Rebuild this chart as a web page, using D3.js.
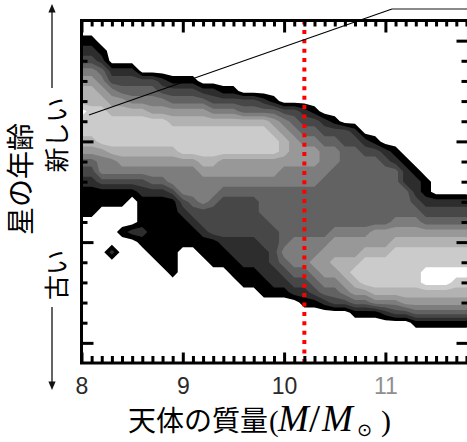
<!DOCTYPE html>
<html>
<head>
<meta charset="utf-8">
<script src="https://cdn.jsdelivr.net/npm/d3@7"></script>
<style>
  html, body { margin: 0; padding: 0; background: #fff; }
  svg { display: block; }
</style>
</head>
<body>
<svg id="chart" width="467" height="442"></svg>
<script>
// ---- data -------------------------------------------------------------
// Galaxy stellar mass, log(M/Msun); bottom/top axes
const massMajorTicks = [8, 9, 10, 11];
const massTickLabels = ["8", "9", "10", "11"];
// Stellar age axis (young at top, old at bottom), arbitrary units, no labels
const ageMajorTicks = [0, 1, 2, 3];

// Density grid: one string per age row (age -0.2 ... 3.2, step 0.1),
// one digit per mass column (mass 8.0 ... 11.8, step 0.1).
// Digit = contour level (0 = empty, 9 = densest).
const gridMass0 = 8.0, gridMassStep = 0.1;
const gridAge0 = -0.2, gridAgeStep = 0.1;
const densityRows = [
  "000000000000000000000000000000000000000",
  "000000000000000000000000000000000000000",
  "110000000000000000000000000000000000000",
  "221000000000000000000000000000000000000",
  "332000000000000000000000000000000000000",
  "554222000000000000000000000000000000000",
  "665333332111000000000000000000000000000",
  "776544443333221100000000000000000000000",
  "777665555444433333210000000000000000000",
  "988777766666655544443321000000000000000",
  "888888888777777777765433210000000000000",
  "888888888888888888876544333200000000000",
  "778888888888888888887655443321000000000",
  "666777777788888888887666554433210000000",
  "445566666666776666666666554444321000000",
  "335555555555666666665555544444442100000",
  "223333344555555555555555444444442210000",
  "111111222355554444444444444444444210000",
  "111110111134543333444444444444444322222",
  "110000111123333333444444444444444433333",
  "000000111112333333344444444444455544444",
  "000012211111233333334444455556666666666",
  "000000111111112222334555566666677777777",
  "000200011100111222235555666677788888888",
  "000000001100011122234556677788888888888",
  "000000000100000111223445667888888899999",
  "000000000000000011122334556788888899988",
  "000000000000000000111223445667777777777",
  "000000000000000000000011233445556666666",
  "000000000000000000000000000111233444444",
  "000000000000000000000000000000000111111",
  "000000000000000000000000000000000000000",
  "000000000000000000000000000000000000000",
  "000000000000000000000000000000000000000",
  "000000000000000000000000000000000000000"
];
const contourThresholds = [0.5, 1.5, 2.5, 3.5, 4.5, 5.5, 6.5, 7.5, 8.5];

// Mass threshold marked by the dotted line
const splitMass = 10.2;

// ---- styles -----------------------------------------------------------
const levelFill = ["#000000", "#2d2d2d", "#474747", "#626262", "#7d7d7d",
                   "#989898", "#b2b2b2", "#cbcbcb", "#ffffff"];

// ---- layout -----------------------------------------------------------
const plot = { left: 81.5, right: 469.5, top: 20.5, bottom: 363 };
const svg = d3.select("#chart");

const x = d3.scaleLinear().domain([8, 8 + (plot.right - plot.left) / 101.3])
  .range([plot.left, plot.right]);
const y = d3.scaleLinear().domain([-0.2, 3.2]).range([plot.top, plot.bottom]);

svg.append("defs").append("clipPath").attr("id", "plotClip")
  .append("rect")
  .attr("x", plot.left).attr("y", plot.top)
  .attr("width", plot.right - plot.left).attr("height", plot.bottom - plot.top);

// ---- filled contours ----------------------------------------------------
const nCols = densityRows[0].length, nRows = densityRows.length;
const values = densityRows.flatMap(row => Array.from(row, Number));
const bands = d3.contours().size([nCols, nRows]).thresholds(contourThresholds)(values);

// grid sample (i, j) sits at contour coordinate (i + 0.5, j + 0.5)
const gridToScreen = d3.geoTransform({
  point(u, v) {
    this.stream.point(
      x(gridMass0 + (u - 0.5) * gridMassStep),
      y(gridAge0 + (v - 0.5) * gridAgeStep));
  }
});
const bandPath = d3.geoPath(gridToScreen);

svg.append("g").attr("clip-path", "url(#plotClip)")
  .selectAll("path").data(bands).join("path")
  .attr("d", bandPath)
  .attr("fill", (d, i) => levelFill[i])
  .attr("stroke", "none");

// ---- dotted mass threshold ---------------------------------------------
svg.append("line")
  .attr("x1", x(splitMass)).attr("x2", x(splitMass))
  .attr("y1", plot.top).attr("y2", plot.bottom)
  .attr("stroke", "#ff0000").attr("stroke-width", 4)
  .attr("stroke-dasharray", "4 5.4");

// ---- axes (ticks pointing inward) --------------------------------------
const massMinor = d3.range(80, 119).map(k => k / 10).filter(v => !Number.isInteger(v));
const ageMinor = d3.range(0, 16).map(k => k / 5).filter(v => !Number.isInteger(v));

function styleTicks(g) {
  g.select(".domain").remove();
  g.selectAll(".tick line").attr("stroke", "#000").attr("stroke-width", 3);
}

// bottom
svg.append("g").attr("transform", `translate(0,${plot.bottom})`)
  .call(d3.axisBottom(x).tickValues(massMinor).tickSize(-7).tickFormat(""))
  .call(styleTicks);
svg.append("g").attr("transform", `translate(0,${plot.bottom})`)
  .call(d3.axisBottom(x).tickValues(massMajorTicks).tickSize(-10.5).tickFormat(""))
  .call(styleTicks);
// top
svg.append("g").attr("transform", `translate(0,${plot.top})`)
  .call(d3.axisTop(x).tickValues(massMinor).tickSize(-6).tickFormat(""))
  .call(styleTicks);
svg.append("g").attr("transform", `translate(0,${plot.top})`)
  .call(d3.axisTop(x).tickValues(massMajorTicks).tickSize(-12).tickFormat(""))
  .call(styleTicks);
// left
svg.append("g").attr("transform", `translate(${plot.left},0)`)
  .call(d3.axisLeft(y).tickValues(ageMinor).tickSize(-6).tickFormat(""))
  .call(styleTicks);
svg.append("g").attr("transform", `translate(${plot.left},0)`)
  .call(d3.axisLeft(y).tickValues(ageMajorTicks).tickSize(-12).tickFormat(""))
  .call(styleTicks);
// right
svg.append("g").attr("transform", `translate(${plot.right},0)`)
  .call(d3.axisRight(y).tickValues(ageMinor).tickSize(-8).tickFormat(""))
  .call(styleTicks);
svg.append("g").attr("transform", `translate(${plot.right},0)`)
  .call(d3.axisRight(y).tickValues(ageMajorTicks).tickSize(-13).tickFormat(""))
  .call(styleTicks);

// frame
svg.append("rect")
  .attr("x", plot.left).attr("y", plot.top)
  .attr("width", plot.right - plot.left).attr("height", plot.bottom - plot.top)
  .attr("fill", "none").attr("stroke", "#000").attr("stroke-width", 3);

// mass tick labels
const labelAxis = svg.append("g").attr("transform", `translate(0,${plot.bottom})`)
  .call(d3.axisBottom(x).tickValues(massMajorTicks).tickSize(0).tickPadding(15)
    .tickFormat((d, i) => massTickLabels[i]));
labelAxis.select(".domain").remove();
labelAxis.selectAll("text")
  .attr("font-family", "'Liberation Sans', Arial, sans-serif")
  .attr("font-size", 23)
  .attr("fill", d => d === 11 ? "#8f8f8f" : "#2a2a2a");

// ---- pointer line to the young population ------------------------------
svg.append("polyline")
  .attr("points", [[8.074, 0.738], [11.065, -0.314]]
    .map(p => [x(p[0]), y(p[1])].join(",")).join(" "))
  .attr("fill", "none").attr("stroke", "#000").attr("stroke-width", 1.1);
svg.append("line")
  .attr("x1", x(11.065)).attr("y1", y(-0.314))
  .attr("x2", x(12)).attr("y2", y(-0.314))
  .attr("stroke", "#8a8a8a").attr("stroke-width", 2);

// ---- axis titles --------------------------------------------------------
const jp = "'Noto Sans CJK JP', 'Noto Sans CJK SC', sans-serif";
const serif = "'Liberation Serif', serif";
const xTitle = svg.append("text").attr("y", 431).attr("fill", "#000");
xTitle.append("tspan").attr("x", 128).attr("font-family", jp).attr("font-size", 28)
  .text("天体の質量");
xTitle.append("tspan").attr("x", 269).attr("font-family", serif)
  .attr("font-size", 29).text("(");
xTitle.append("tspan").attr("x", 278).attr("font-family", serif)
  .attr("font-style", "italic").attr("font-size", 37).text("M");
xTitle.append("tspan").attr("x", 309).attr("font-family", serif)
  .attr("font-size", 40).attr("dy", 1).text("/");
xTitle.append("tspan").attr("x", 322).attr("dy", -1).attr("font-family", serif)
  .attr("font-style", "italic").attr("font-size", 37).text("M");
xTitle.append("tspan").attr("x", 357).attr("dy", 5).attr("font-family", "'DejaVu Sans', sans-serif")
  .attr("font-size", 18).text("⊙");
xTitle.append("tspan").attr("x", 381).attr("dy", -5).attr("font-family", serif)
  .attr("font-size", 30).text(")");

svg.append("text")
  .attr("transform", "translate(31,179) rotate(-90)")
  .attr("text-anchor", "middle").attr("font-family", jp).attr("font-size", 28)
  .attr("fill", "#000").text("星の年齢");
svg.append("text")
  .attr("transform", "translate(66,135) rotate(-90)")
  .attr("text-anchor", "middle").attr("font-family", jp).attr("font-size", 25)
  .attr("fill", "#000").text("新しい");
svg.append("text")
  .attr("transform", "translate(66,275) rotate(-90)")
  .attr("text-anchor", "middle").attr("font-family", jp).attr("font-size", 25)
  .attr("fill", "#000").text("古い");

// direction arrows beside the age labels
const arrowX = 52;
svg.append("line").attr("x1", arrowX).attr("x2", arrowX).attr("y1", 88).attr("y2", 11)
  .attr("stroke", "#111").attr("stroke-width", 1.3);
svg.append("path").attr("d", `M${arrowX},4 L${arrowX - 3.6},12.5 L${arrowX + 3.6},12.5 Z`)
  .attr("fill", "#111");
svg.append("line").attr("x1", arrowX).attr("x2", arrowX).attr("y1", 307).attr("y2", 383)
  .attr("stroke", "#111").attr("stroke-width", 1.3);
svg.append("path").attr("d", `M${arrowX},390 L${arrowX - 3.6},381.5 L${arrowX + 3.6},381.5 Z`)
  .attr("fill", "#111");
</script>
</body>
</html>
